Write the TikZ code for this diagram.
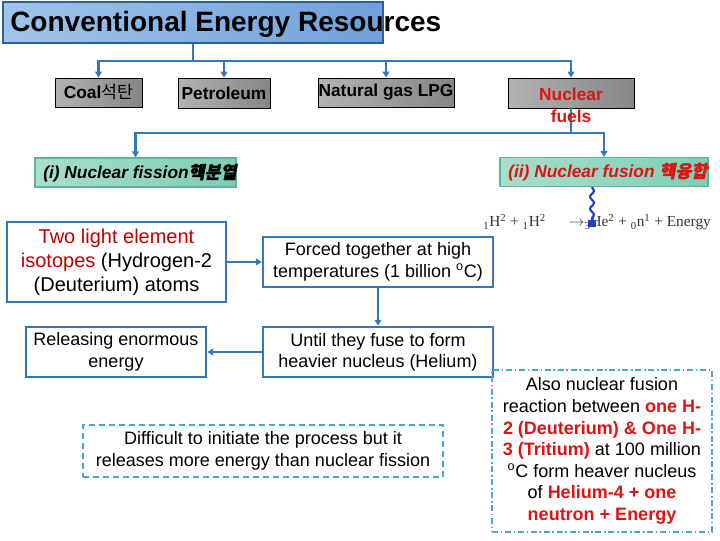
\documentclass[tikz,border=0pt]{standalone}
\usepackage{fontspec}
\setmainfont{Liberation Sans}
\newfontfamily\eqfont{Liberation Serif}
\newfontfamily\kr{Noto Sans CJK KR}
\newfontfamily\krbi{Noto Sans CJK KR}[FakeSlant=0.2,FakeBold=1.5]
\usepackage{xcolor}
\usepackage{tikz}
\usetikzlibrary{arrows.meta, calc, decorations.pathmorphing}

\definecolor{linkblue}{RGB}{52,120,186}
\definecolor{titleL}{RGB}{160,196,234}
\definecolor{titleR}{RGB}{112,160,218}
\definecolor{tealL}{RGB}{168,222,204}
\definecolor{tealR}{RGB}{126,205,182}
\definecolor{tealedge}{RGB}{90,180,158}
\definecolor{dashblue}{RGB}{75,168,200}
\definecolor{fred}{RGB}{222,20,20}
\definecolor{dred}{RGB}{192,0,0}
\definecolor{wavyblue}{RGB}{30,64,200}

\begin{document}
\begin{tikzpicture}[x=0.75pt, y=-0.75pt, >={Triangle[width=5pt,length=4.5pt]},
  conn/.style={draw=linkblue, line width=2pt},
  graybox/.style={draw=black, line width=0.6pt, left color=gray!60, right color=gray!95,
    inner sep=0pt, font=\fontsize{13}{15}\selectfont\bfseries},
  tealbox/.style={draw=tealedge, line width=0.8pt, left color=tealL, right color=tealR,
    minimum height=21.75pt, inner sep=0pt},
  procbox/.style={draw=linkblue, line width=1.8pt, fill=white, align=center, inner sep=0pt,
    font=\fontsize{13.5}{16}\selectfont},
  notebox/.style={draw=dashblue, line width=1.6pt, align=center, inner sep=0pt,
    font=\fontsize{13.5}{16.2}\selectfont}]
  \useasboundingbox (0,0) rectangle (720,540);

  % top row
  \node[draw=linkblue!80!black, line width=0.8pt, left color=titleL, right color=titleR,
    minimum width=285pt, minimum height=30.75pt] (titlebox) at (193,22.5) {};
  \node[anchor=west, inner sep=0pt, font=\fontsize{21}{24}\selectfont\bfseries]
    (titletxt) at (10,24.5) {Conventional Energy Resources};
  \node[graybox, minimum width=65.25pt, minimum height=21.75pt] (coal) at (98.5,92.5)
    {Coal{\mdseries\kr 석탄}};
  \node[graybox, minimum width=69pt, minimum height=22.5pt] (petrol) at (224,93) {Petroleum};
  \node[graybox, minimum width=102pt, minimum height=21.75pt] (gas) at (386,92.5)
    {Natural gas LPG};
  \node[graybox, minimum width=94.5pt, minimum height=22.5pt] (nuclear) at (571,93) {};
  \coordinate (hub) at (193,61);
  \coordinate (split) at (571,133);

  % second row
  \node[tealbox, minimum width=150.75pt] (fission) at (135.5,172.5) {};
  \node[tealbox, minimum width=156pt] (fusion) at (604,172) {};

  \draw[conn] (titlebox.south) -- (hub);
  \draw[conn, ->] (hub) -| (coal.north);
  \draw[conn, ->] (hub) -| (petrol.north);
  \draw[conn, ->] (hub) -| (gas.north);
  \draw[conn, ->] (hub) -| (nuclear.north);
  \draw[conn] (nuclear.south) -- (split);
  \draw[conn, ->] (split) -| (fission.north);
  \draw[conn, ->] (split) -| (fusion.north);

  \node[align=center, inner sep=0pt, text=fred, font=\fontsize{13}{16.5}\selectfont\bfseries]
    (nuctxt) at (571,105) {Nuclear\\fuels};
  \node[anchor=west, inner sep=0pt, font=\fontsize{13}{15}\selectfont\bfseries\itshape]
    (fissiontxt) at (43,173) {(\textit{i}) Nuclear fission{\krbi 핵분열}};
  \node[anchor=west, inner sep=0pt, text=fred, font=\fontsize{13}{15}\selectfont\bfseries\itshape]
    (fusiontxt) at (508,172) {(\textit{ii}) Nuclear fusion {\krbi 핵융합}};

  % reaction
  \node[anchor=west, inner sep=0pt, text=black!80, font=\eqfont\fontsize{11.5}{13}\selectfont]
    (eqn) at (483,222) {\textsubscript{1}H\textsuperscript{2} + \textsubscript{1}H\textsuperscript{2}%
    \hspace{17pt}$\rightarrow$\textsubscript{3}He\textsuperscript{2} + \textsubscript{0}n\textsuperscript{1} + Energy};
  \coordinate (eqtip) at (592,227);
  \draw[wavyblue, line width=1.6pt, -{Square[width=6pt,length=5pt]},
    decorate, decoration={snake, amplitude=1.5pt, segment length=9pt, post length=4pt}]
    (fusion.south -| eqtip) -- (eqtip);

  % fusion steps
  \node[procbox, minimum width=164.25pt, minimum height=60pt,
    font=\fontsize{15}{18}\selectfont] (light) at (116.5,262)
    {\textcolor{dred}{Two light element}\\\textcolor{dred}{isotopes} (Hydrogen-2\\(Deuterium) atoms};
  \node[procbox, minimum width=172.5pt, minimum height=37.5pt] (forced) at (378,262)
    {Forced together at high\\temperatures (1 billion \textsuperscript{o}C)};
  \node[procbox, minimum width=172.5pt, minimum height=37.5pt] (fuse) at (378,352)
    {Until they fuse to form\\heavier nucleus (Helium)};
  \node[procbox, minimum width=135pt, minimum height=37.5pt] (release) at (116,352)
    {Releasing enormous\\energy};
  \draw[conn, ->] (light) -- (forced);
  \draw[conn, ->] (forced) -- (fuse);
  \draw[conn, ->] (fuse) -- (release);

  % notes
  \node[notebox, dashed, dash pattern=on 4.5pt off 3pt, minimum width=270pt, minimum height=39pt]
    (hard) at (263,451)
    {Difficult to initiate the process but it\\releases more energy than nuclear fission};
  \node[notebox, dash pattern=on 4.5pt off 2pt on 1.2pt off 2pt, minimum width=165pt,
    minimum height=121.5pt] (dt) at (602,451)
    {Also nuclear fusion\\reaction between \textcolor{fred}{\bfseries one H-}\\
    \textcolor{fred}{\bfseries 2 (Deuterium) \& One H-}\\
    \textcolor{fred}{\bfseries 3 (Tritium)} at 100 million\\
    \textsuperscript{o}C form heaver nucleus\\
    of \textcolor{fred}{\bfseries Helium-4 + one}\\
    \textcolor{fred}{\bfseries neutron + Energy}};
\end{tikzpicture}
\end{document}
